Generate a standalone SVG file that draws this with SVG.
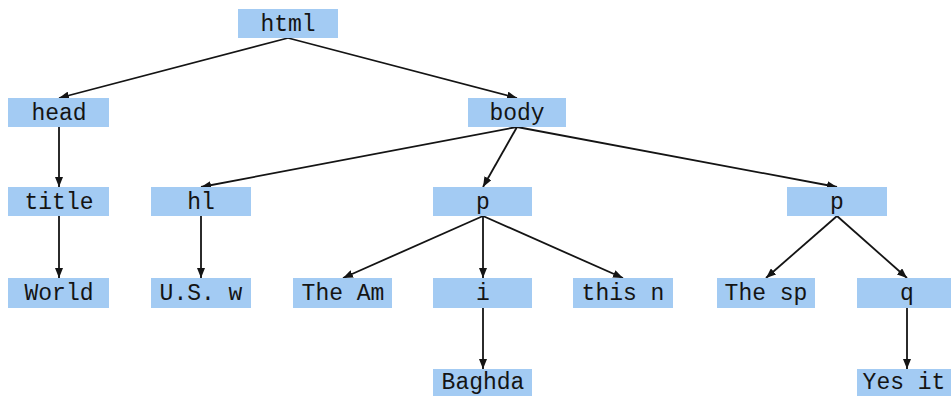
<svg xmlns="http://www.w3.org/2000/svg" width="951" height="396" viewBox="0 0 951 396">
<style>
.n rect{fill:#a3cbf3;}
.n text{font-family:"Liberation Mono","DejaVu Sans Mono",monospace;font-size:23px;fill:#141414;text-anchor:middle;}
.e line{stroke:#141414;stroke-width:1.8;marker-end:url(#ah);}
</style>
<defs>
<marker id="ah" viewBox="0 0 10 8" refX="10" refY="4" markerWidth="10" markerHeight="8" markerUnits="userSpaceOnUse" orient="auto">
<path d="M0,0 L10,4 L0,8 z" fill="#141414"/>
</marker>
</defs>
<rect width="951" height="396" fill="#ffffff"/>
<g id="edges" class="e">
<line x1="288" y1="38" x2="59" y2="98"/>
<line x1="288" y1="38" x2="517" y2="98"/>
<line x1="59" y1="127" x2="59" y2="187"/>
<line x1="59" y1="216" x2="59" y2="278"/>
<line x1="517" y1="127" x2="201" y2="187"/>
<line x1="517" y1="127" x2="483" y2="187"/>
<line x1="517" y1="127" x2="837" y2="187"/>
<line x1="201" y1="216" x2="201" y2="278"/>
<line x1="483" y1="216" x2="343" y2="278"/>
<line x1="483" y1="216" x2="483" y2="278"/>
<line x1="483" y1="216" x2="623" y2="278"/>
<line x1="837" y1="216" x2="766" y2="278"/>
<line x1="837" y1="216" x2="907" y2="278"/>
<line x1="483" y1="308" x2="483" y2="369"/>
<line x1="907" y1="308" x2="907" y2="369"/>
</g>
<g id="n-html" class="n"><rect x="238" y="9" width="100" height="29"/><text x="288" y="31">html</text></g>
<g id="n-head" class="n"><rect x="8" y="98" width="101" height="29"/><text x="59" y="120">head</text></g>
<g id="n-body" class="n"><rect x="468" y="98" width="98" height="29"/><text x="517" y="120">body</text></g>
<g id="n-title" class="n"><rect x="8" y="187" width="101" height="29"/><text x="59" y="209">title</text></g>
<g id="n-hl" class="n"><rect x="151" y="187" width="100" height="29"/><text x="201" y="209">hl</text></g>
<g id="n-p1" class="n"><rect x="433" y="187" width="99" height="29"/><text x="483" y="209">p</text></g>
<g id="n-p2" class="n"><rect x="787" y="187" width="100" height="29"/><text x="837" y="209">p</text></g>
<g id="n-world" class="n"><rect x="8" y="278" width="101" height="30"/><text x="59" y="300">World</text></g>
<g id="n-usw" class="n"><rect x="151" y="278" width="100" height="30"/><text x="201" y="300">U.S. w</text></g>
<g id="n-theam" class="n"><rect x="293" y="278" width="99" height="30"/><text x="343" y="300">The Am</text></g>
<g id="n-i" class="n"><rect x="433" y="278" width="99" height="30"/><text x="483" y="300">i</text></g>
<g id="n-thisn" class="n"><rect x="573" y="278" width="100" height="30"/><text x="623" y="300">this n</text></g>
<g id="n-thesp" class="n"><rect x="717" y="278" width="98" height="30"/><text x="766" y="300">The sp</text></g>
<g id="n-q" class="n"><rect x="857" y="278" width="100" height="30"/><text x="907" y="300">q</text></g>
<g id="n-baghda" class="n"><rect x="433" y="369" width="99" height="27"/><text x="483" y="389">Baghda</text></g>
<g id="n-yesit" class="n"><rect x="857" y="369" width="94" height="27"/><text x="904" y="389">Yes it</text></g>
</svg>
